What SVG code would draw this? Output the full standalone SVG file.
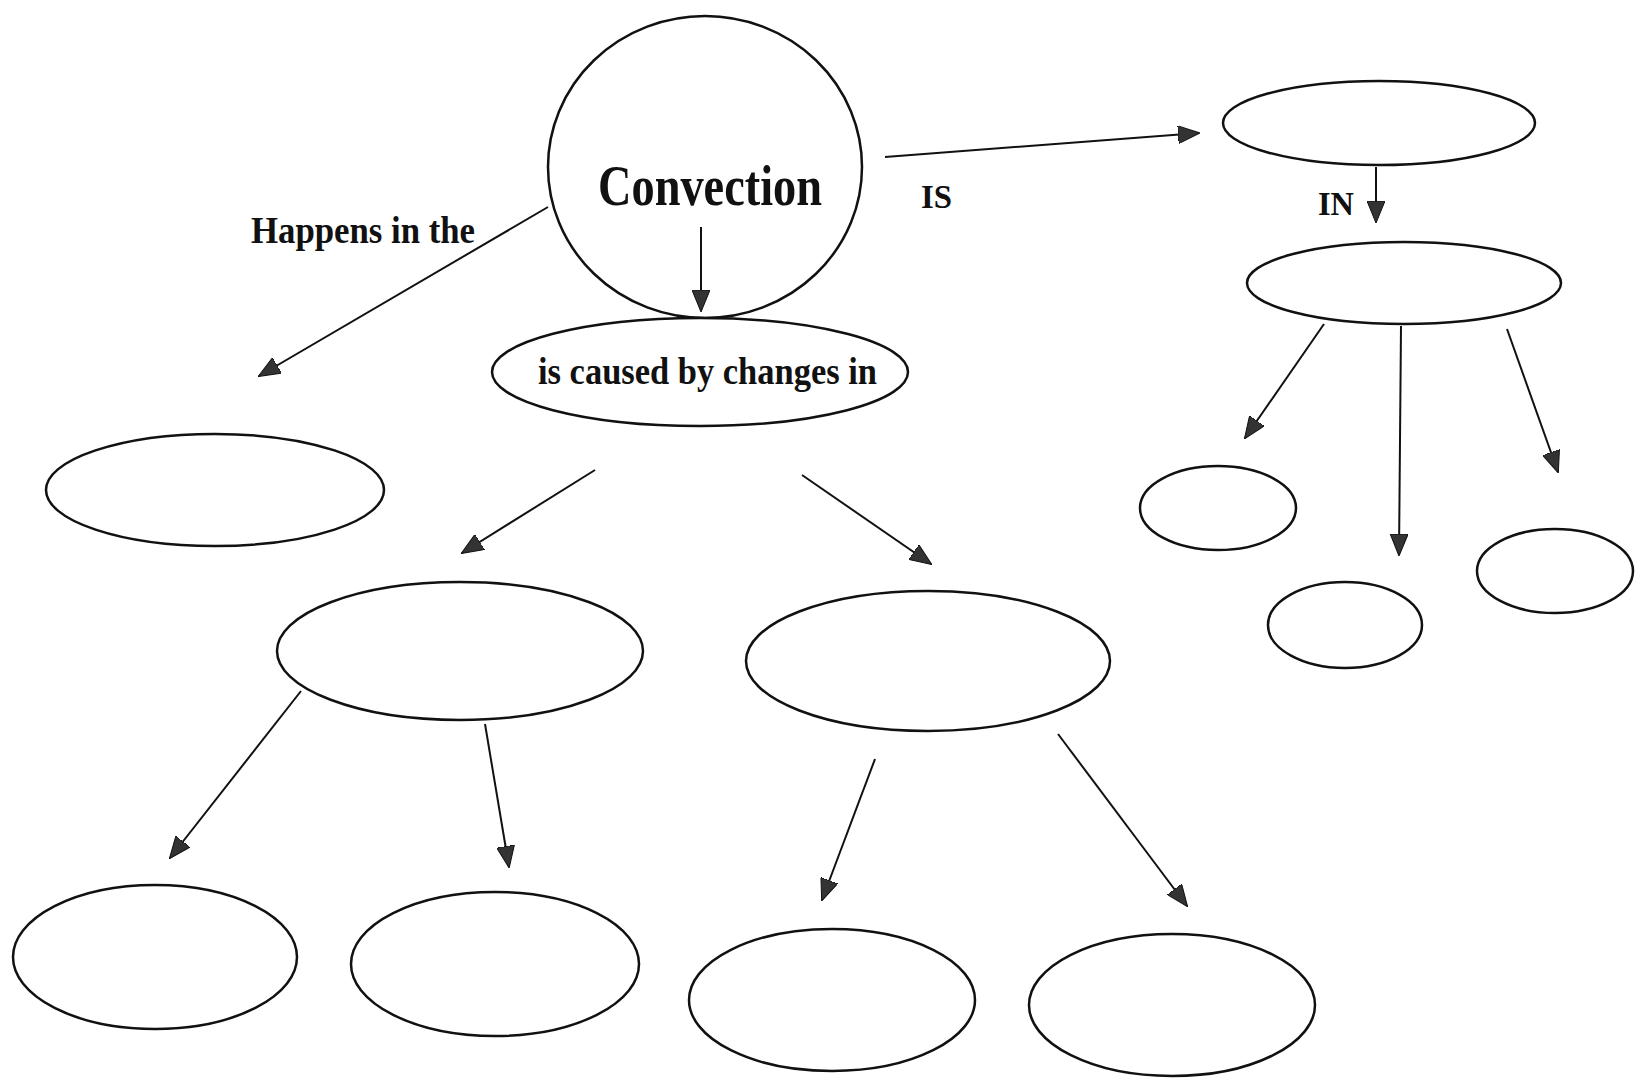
<svg xmlns="http://www.w3.org/2000/svg" width="1637" height="1078" viewBox="0 0 1637 1078">
<style>
.n{fill:#fff;stroke:#111;stroke-width:2.5}
.c{stroke:#111;stroke-width:2;fill:none;marker-end:url(#ah)}
.t{font-family:"Liberation Serif","Times New Roman",serif;font-weight:bold;fill:#111}
</style>
<defs>
<marker id="ah" viewBox="0 0 22 18" refX="21" refY="9" markerWidth="22" markerHeight="18" markerUnits="userSpaceOnUse" orient="auto">
<path d="M0,0 L22,9 L0,18 z" fill="#333" stroke="#111" stroke-width="1"/>
</marker>
</defs>
<rect width="1637" height="1078" fill="#fff"/>
<g id="convection">
<ellipse class="n" cx="705" cy="167" rx="157" ry="151"/>
<text class="t" x="598" y="205" font-size="58" textLength="224" lengthAdjust="spacingAndGlyphs">Convection</text>
</g>
<g id="caused">
<ellipse class="n" cx="700" cy="372" rx="208" ry="54"/>
<text class="t" x="538" y="384" font-size="37" textLength="339" lengthAdjust="spacingAndGlyphs">is caused by changes in</text>
</g>
<g id="r1"><ellipse class="n" cx="1379" cy="123" rx="156" ry="42"/></g>
<g id="r2"><ellipse class="n" cx="1404" cy="283" rx="157" ry="41"/></g>
<g id="r3"><ellipse class="n" cx="1218" cy="508" rx="78" ry="42"/></g>
<g id="r4"><ellipse class="n" cx="1345" cy="625" rx="77" ry="43"/></g>
<g id="r5"><ellipse class="n" cx="1555" cy="571" rx="78" ry="42"/></g>
<g id="l1"><ellipse class="n" cx="215" cy="490" rx="169" ry="56"/></g>
<g id="m1"><ellipse class="n" cx="460" cy="651" rx="183" ry="69"/></g>
<g id="m2"><ellipse class="n" cx="928" cy="661" rx="182" ry="70"/></g>
<g id="b1"><ellipse class="n" cx="155" cy="957" rx="142" ry="72"/></g>
<g id="b2"><ellipse class="n" cx="495" cy="964" rx="144" ry="72"/></g>
<g id="b3"><ellipse class="n" cx="832" cy="1000" rx="143" ry="71"/></g>
<g id="b4"><ellipse class="n" cx="1172" cy="1005" rx="143" ry="71"/></g>
<g id="connectors">
<line class="c" x1="548" y1="207" x2="259" y2="376"/>
<line class="c" x1="701" y1="227" x2="701" y2="311"/>
<line class="c" x1="885" y1="157" x2="1199" y2="133"/>
<line class="c" x1="1376" y1="167" x2="1376" y2="222"/>
<line class="c" x1="1324" y1="324" x2="1245" y2="438"/>
<line class="c" x1="1401" y1="326" x2="1399" y2="555"/>
<line class="c" x1="1507" y1="329" x2="1558" y2="472"/>
<line class="c" x1="595" y1="470" x2="462" y2="553"/>
<line class="c" x1="802" y1="475" x2="931" y2="564"/>
<line class="c" x1="301" y1="691" x2="170" y2="858"/>
<line class="c" x1="485" y1="724" x2="509" y2="867"/>
<line class="c" x1="875" y1="759" x2="822" y2="900"/>
<line class="c" x1="1058" y1="734" x2="1187" y2="906"/>
</g>
<g id="labels">
<text class="t" x="251" y="243" font-size="37" textLength="224" lengthAdjust="spacingAndGlyphs">Happens in the</text>
<text class="t" x="921" y="208" font-size="34" textLength="31" lengthAdjust="spacingAndGlyphs">IS</text>
<text class="t" x="1318" y="215" font-size="34" textLength="36" lengthAdjust="spacingAndGlyphs">IN</text>
</g>
</svg>
